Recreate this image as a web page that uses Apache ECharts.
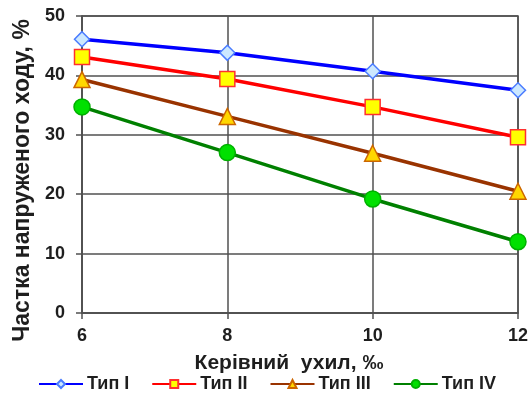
<!DOCTYPE html>
<html>
<head>
<meta charset="utf-8">
<script src="https://cdn.jsdelivr.net/npm/echarts@6/dist/echarts.min.js"></script>
<style>
  html, body { margin: 0; padding: 0; background: #fff; }
  #chart { width: 531px; height: 410px; }
</style>
</head>
<body>
<div id="chart"></div>
<script>
// Ruling gradient, per mille
const gradients = [6, 8, 10, 12];
// Share of traction running, %
const type1 = [46.1, 43.8, 40.7, 37.5];
const type2 = [43.1, 39.4, 34.7, 29.6];
const type3 = [39.3, 33.1, 26.9, 20.5];
const type4 = [34.7, 27.0, 19.2, 12.0];
const seriesNames = ['Тип І', 'Тип ІІ', 'Тип ІІІ', 'Тип IV'];

const font = '"Liberation Sans", Arial, sans-serif';
const gridColor = '#505050';
const textColor = '#1e1e1e';

function pairs(values) {
  return gradients.map((g, i) => [g, values[i]]);
}

function lineSeries(name, values, color, symbol, size, fill, border) {
  return {
    name: name,
    type: 'line',
    data: pairs(values),
    symbol: symbol,
    symbolSize: size,
    showAllSymbol: true,
    lineStyle: { color: color, width: 3.5 },
    itemStyle: { color: fill, borderColor: border, borderWidth: 1.5 },
    emphasis: { disabled: true },
    z: 3
  };
}

const chart = echarts.init(document.getElementById('chart'), null, { renderer: 'canvas' });
chart.setOption({
  animation: false,
  backgroundColor: '#ffffff',
  grid: { left: 82, right: 13, top: 16, bottom: 97, containLabel: false },
  xAxis: {
    type: 'value',
    min: 6, max: 12, interval: 2,
    name: 'Керівний  ухил, ‰',
    nameLocation: 'middle',
    nameGap: 40,
    nameTextStyle: { fontFamily: font, fontWeight: 'bold', fontSize: 21, color: textColor, padding: [0, 22, 0, 0] },
    axisLine: { show: true, lineStyle: { color: gridColor, width: 1.5 } },
    axisTick: { show: true, length: 6, lineStyle: { color: gridColor, width: 1.5 } },
    axisLabel: { fontFamily: font, fontWeight: 'bold', fontSize: 18, color: textColor, margin: 14 },
    splitLine: { show: true, lineStyle: { color: gridColor, width: 1.5 } }
  },
  yAxis: {
    type: 'value',
    min: 0, max: 50, interval: 10,
    name: 'Частка напруженого ходу, %',
    nameLocation: 'middle',
    nameGap: 48,
    nameTextStyle: { fontFamily: font, fontWeight: 'bold', fontSize: 23, color: textColor, padding: [0, 32, 0, 0] },
    axisLine: { show: true, lineStyle: { color: gridColor, width: 1.5 } },
    axisTick: { show: true, length: 6, lineStyle: { color: gridColor, width: 1.5 } },
    axisLabel: { fontFamily: font, fontWeight: 'bold', fontSize: 18, color: textColor, margin: 17 },
    splitLine: { show: true, lineStyle: { color: gridColor, width: 1.5 } }
  },
  legend: {
    top: 370,
    left: 33,
    itemWidth: 44,
    itemHeight: 10,
    itemGap: 22,
    textStyle: { fontFamily: font, fontWeight: 'bold', fontSize: 18, color: textColor, padding: [0, 0, 0, -1] },
    data: seriesNames
  },
  series: [
    lineSeries(seriesNames[0], type1, '#0000ff', 'diamond', 15, '#cce8ff', '#4a7cff'),
    lineSeries(seriesNames[1], type2, '#ff0000', 'rect', 15, '#ffff00', '#ff3030'),
    lineSeries(seriesNames[2], type3, '#993300', 'triangle', 16, '#ffd700', '#cc6600'),
    lineSeries(seriesNames[3], type4, '#008000', 'circle', 16, '#00e000', '#00b000')
  ]
});

// close the plot frame on the top and right edges
chart.setOption({
  graphic: [{
    type: 'rect',
    shape: { x: 82, y: 16, width: 531 - 82 - 13, height: 410 - 16 - 97 },
    style: { fill: 'none', stroke: gridColor, lineWidth: 1.5 },
    silent: true,
    z: 1
  }]
});
</script>
</body>
</html>
